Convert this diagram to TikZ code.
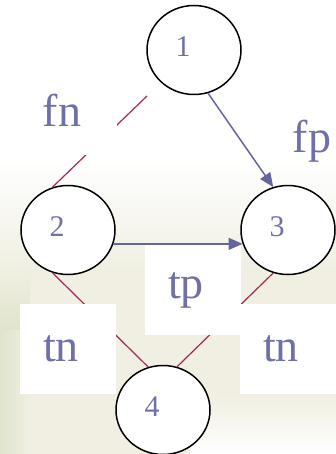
\documentclass[tikz,border=0pt]{standalone}
\usepackage{fontspec}
\setmainfont{Liberation Serif}
\usetikzlibrary{arrows.meta, shapes.geometric}

\definecolor{lblblue}{RGB}{112,112,168}
\definecolor{arrblue}{RGB}{102,102,158}
\definecolor{edgered}{RGB}{158,42,92}
\definecolor{bgcream}{RGB}{240,239,226}
\definecolor{bggreen}{RGB}{224,228,204}

\tikzset{
  state/.style={ellipse, draw, fill=white, line width=1.5pt, minimum width=94pt, minimum height=89pt, inner sep=0pt},
  numtext/.style={text=lblblue, font=\fontsize{30}{30}\selectfont, xshift=-11pt, yshift=3pt},
  labelbox/.style={fill=white, text=lblblue, font=\fontsize{46}{46}\selectfont, minimum width=96pt, minimum height=90pt, inner sep=0pt, execute at begin node=\hspace*{-14pt}},
  plainlbl/.style={text=lblblue, font=\fontsize{46}{46}\selectfont, inner sep=0pt},
  undir/.style={edgered, line width=1.2pt},
  dir/.style={arrblue, line width=1.5pt, -{Triangle[length=14pt, width=12pt]}}
}

\begin{document}
\begin{tikzpicture}[x=1pt, y=-1pt]
  \useasboundingbox (0,0) rectangle (336,454);
  % hintergrund
  \fill[white] (0,0) rectangle (336,454);
  \shade[top color=white, bottom color=bgcream] (0,160) rectangle (336,270);
  \fill[bgcream] (0,270) rectangle (336,454);
  \shade[top color=bgcream, bottom color=bggreen] (0,270) rectangle (30,330);
  \shade[left color=bggreen, right color=bgcream] (0,330) rectangle (30,454);
  \shade[top color=bgcream, bottom color=white] (190,395) rectangle (336,454);
  % knoten
  \node[state, label={[numtext]center:1}] (n1) at (194,50) {};
  \node[state, label={[numtext]center:2}] (n2) at (68,230) {};
  \node[state, label={[numtext]center:3}] (n3) at (288,230) {};
  \node[state, label={[numtext]center:4}] (n4) at (163,410) {};
  % ungerichtete kanten
  \coordinate (fnend) at (147,96);
  \draw[undir] (fnend) -- (n2.110);
  \draw[undir] (n2.-110) -- (n4.109);
  \draw[undir] (n3.-109) -- (n4.72);
  % beschriftungen
  \node[labelbox] (fnlbl) at (69,110) {fn};
  \node[labelbox] (tplbl) at (193,290) {tp};
  \node[labelbox] (tnleft) at (68,349) {tn};
  \node[labelbox] (tnright) at (288,349) {tn};
  \node[plainlbl] (fplbl) at (312,141) {fp};
  % gerichtete kanten
  \draw[dir] (n1.-72) -- (n3.109);
  \draw[dir] (n2.-17) -- (n3.197);
\end{tikzpicture}
\end{document}
